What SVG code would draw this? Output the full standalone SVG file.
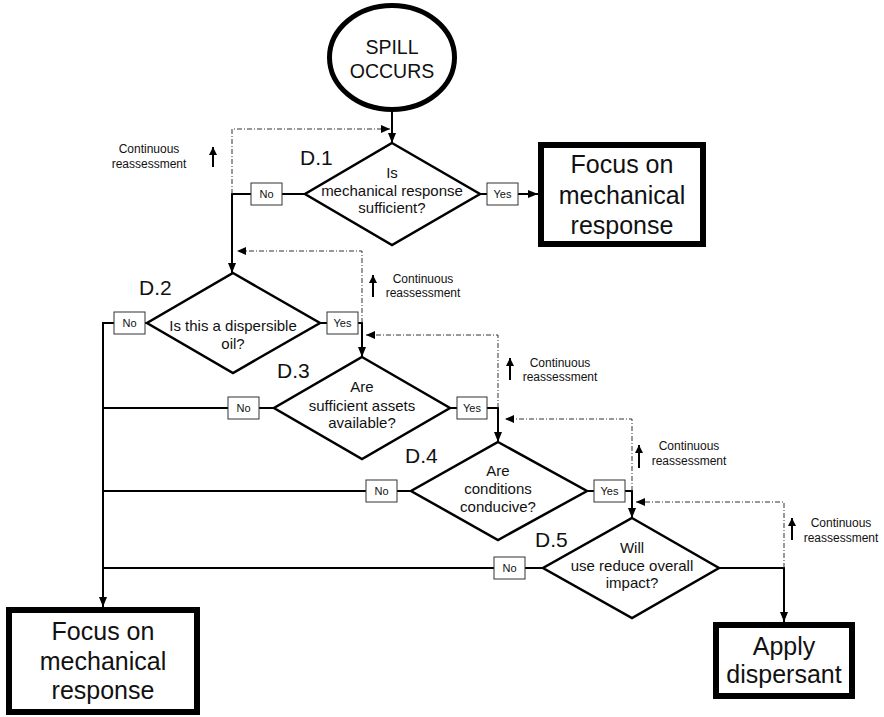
<svg xmlns="http://www.w3.org/2000/svg" width="884" height="717" viewBox="0 0 884 717">
  <defs>
    <marker id="arrow" viewBox="0 0 10 8" refX="10" refY="4" markerWidth="10" markerHeight="8" markerUnits="userSpaceOnUse" orient="auto">
      <path d="M0,0 L10,4 L0,8 z" fill="#000"/>
    </marker>
    <marker id="arrowSmall" viewBox="0 0 9 8" refX="9" refY="4" markerWidth="9" markerHeight="8" markerUnits="userSpaceOnUse" orient="auto">
      <path d="M0,0 L9,4 L0,8 z" fill="#000"/>
    </marker>
    <marker id="arrowUp" viewBox="0 0 8 9" refX="8" refY="4" markerWidth="8" markerHeight="9" markerUnits="userSpaceOnUse" orient="auto">
      <path d="M0,0 L8,4 L0,8 z" fill="#000"/>
    </marker>
  </defs>
  <style>
    text { font-family: "Liberation Sans", Arial, sans-serif; fill: #111; }
    .term { fill: #fff; stroke: #000; stroke-width: 6; }
    .decision { fill: #fff; stroke: #000; stroke-width: 2.5; stroke-linejoin: miter; }
    .tag { fill: #fff; stroke: #333; stroke-width: 1; }
    .tagtext { font-size: 11px; text-anchor: middle; }
    .qtext { font-size: 15px; text-anchor: middle; }
    .dlabel { font-size: 21px; }
    .bigtext { font-size: 25px; text-anchor: middle; }
    .note { font-size: 12px; text-anchor: middle; }
    .flow { fill: none; stroke: #000; stroke-width: 2; }
    .loop { fill: none; stroke: #333; stroke-width: 1; stroke-dasharray: 5 2 1 2; }
    .up { fill: none; stroke: #000; stroke-width: 2; }
  </style>

  <!-- connectors -->
  <g id="connectors">
    <path class="flow" d="M392,110 V143" marker-end="url(#arrow)"/>
    <path class="flow" d="M480,194 H487"/>
    <path class="flow" d="M518,194 H538" marker-end="url(#arrow)"/>
    <path class="flow" d="M305,194 H282"/>
    <path class="flow" d="M251,194 H232 V273" marker-end="url(#arrow)"/>

    <path class="flow" d="M147,323 H145"/>
    <path class="flow" d="M114,323 H103 V607" marker-end="url(#arrow)"/>
    <path class="flow" d="M320,323 H327"/>
    <path class="flow" d="M358,323 H362 V357" marker-end="url(#arrow)"/>

    <path class="flow" d="M274,408 H259"/>
    <path class="flow" d="M228,408 H103"/>
    <path class="flow" d="M450,408 H457"/>
    <path class="flow" d="M487,408 H498 V442" marker-end="url(#arrow)"/>

    <path class="flow" d="M411,491 H397"/>
    <path class="flow" d="M366,491 H103"/>
    <path class="flow" d="M587,491 H594"/>
    <path class="flow" d="M625,491 H632 V518" marker-end="url(#arrow)"/>

    <path class="flow" d="M543,568 H525"/>
    <path class="flow" d="M494,568 H103"/>
    <path class="flow" d="M719,568 H784 V622" marker-end="url(#arrow)"/>

    <!-- reassessment loops -->
    <path class="loop" d="M232,194 V129 H390" marker-end="url(#arrowSmall)"/>
    <path class="loop" d="M362,323 V251 H237" marker-end="url(#arrowSmall)"/>
    <path class="loop" d="M498,408 V335 H366" marker-end="url(#arrowSmall)"/>
    <path class="loop" d="M632,491 V419 H505" marker-end="url(#arrowSmall)"/>
    <path class="loop" d="M784,568 V502 H636" marker-end="url(#arrowSmall)"/>
  </g>

  <!-- start -->
  <g id="spill">
    <ellipse cx="392" cy="57.5" rx="62.5" ry="52" fill="#fff" stroke="#000" stroke-width="5"/>
    <text x="392" y="54" font-size="19.5" text-anchor="middle">SPILL</text>
    <text x="392" y="78" font-size="19.5" text-anchor="middle">OCCURS</text>
  </g>

  <!-- D.1 -->
  <g id="d1">
    <polygon class="decision" points="392,143 480,194 392,245 305,194"/>
    <text class="dlabel" x="300" y="165">D.1</text>
    <text class="qtext" x="392" y="178">Is</text>
    <text class="qtext" x="392" y="196">mechanical response</text>
    <text class="qtext" x="392" y="213">sufficient?</text>
  </g>
  <g id="d1-yes">
    <rect class="tag" x="487" y="183" width="31" height="22"/>
    <text class="tagtext" x="502.5" y="198">Yes</text>
  </g>
  <g id="d1-no">
    <rect class="tag" x="251" y="183" width="31" height="22"/>
    <text class="tagtext" x="266.5" y="198">No</text>
  </g>

  <!-- mechanical response (top) -->
  <g id="mech-top">
    <rect class="term" x="541" y="145" width="162" height="99"/>
    <text class="bigtext" x="622" y="173">Focus on</text>
    <text class="bigtext" x="622" y="204">mechanical</text>
    <text class="bigtext" x="622" y="234">response</text>
  </g>

  <!-- D.2 -->
  <g id="d2">
    <polygon class="decision" points="233,273 320,323 233,373 147,323"/>
    <text class="dlabel" x="139" y="295">D.2</text>
    <text class="qtext" x="233" y="331">Is this a dispersible</text>
    <text class="qtext" x="233" y="349">oil?</text>
  </g>
  <g id="d2-no">
    <rect class="tag" x="114" y="312" width="31" height="22"/>
    <text class="tagtext" x="129.5" y="327">No</text>
  </g>
  <g id="d2-yes">
    <rect class="tag" x="327" y="312" width="31" height="22"/>
    <text class="tagtext" x="342.5" y="327">Yes</text>
  </g>

  <!-- D.3 -->
  <g id="d3">
    <polygon class="decision" points="362,357 450,408 362,459 274,408"/>
    <text class="dlabel" x="277" y="378">D.3</text>
    <text class="qtext" x="362" y="392">Are</text>
    <text class="qtext" x="362" y="411">sufficient assets</text>
    <text class="qtext" x="362" y="428">available?</text>
  </g>
  <g id="d3-no">
    <rect class="tag" x="228" y="397" width="31" height="22"/>
    <text class="tagtext" x="243.5" y="412">No</text>
  </g>
  <g id="d3-yes">
    <rect class="tag" x="457" y="397" width="30" height="22"/>
    <text class="tagtext" x="472" y="412">Yes</text>
  </g>

  <!-- D.4 -->
  <g id="d4">
    <polygon class="decision" points="498,442 587,491 498,540 411,491"/>
    <text class="dlabel" x="405" y="463">D.4</text>
    <text class="qtext" x="498" y="476">Are</text>
    <text class="qtext" x="498" y="494">conditions</text>
    <text class="qtext" x="498" y="512">conducive?</text>
  </g>
  <g id="d4-no">
    <rect class="tag" x="366" y="480" width="31" height="22"/>
    <text class="tagtext" x="381.5" y="495">No</text>
  </g>
  <g id="d4-yes">
    <rect class="tag" x="594" y="480" width="31" height="22"/>
    <text class="tagtext" x="609.5" y="495">Yes</text>
  </g>

  <!-- D.5 -->
  <g id="d5">
    <polygon class="decision" points="632,518 719,568 632,618 543,568"/>
    <text class="dlabel" x="535" y="547">D.5</text>
    <text class="qtext" x="632" y="553">Will</text>
    <text class="qtext" x="632" y="571">use reduce overall</text>
    <text class="qtext" x="632" y="588">impact?</text>
  </g>
  <g id="d5-no">
    <rect class="tag" x="494" y="557" width="31" height="22"/>
    <text class="tagtext" x="509.5" y="572">No</text>
  </g>

  <!-- mechanical response (bottom) -->
  <g id="mech-bottom">
    <rect class="term" x="9" y="610" width="188" height="102"/>
    <text class="bigtext" x="103" y="640">Focus on</text>
    <text class="bigtext" x="103" y="670">mechanical</text>
    <text class="bigtext" x="103" y="699">response</text>
  </g>

  <!-- apply dispersant -->
  <g id="apply">
    <rect class="term" x="716" y="625" width="136" height="71"/>
    <text class="bigtext" x="784" y="655">Apply</text>
    <text class="bigtext" x="784" y="683">dispersant</text>
  </g>

  <!-- reassessment notes -->
  <g id="note1">
    <path class="up" d="M213,167 V147" marker-end="url(#arrowUp)"/>
    <text class="note" x="149" y="153">Continuous</text>
    <text class="note" x="149" y="168">reassessment</text>
  </g>
  <g id="note2">
    <path class="up" d="M373,297 V275" marker-end="url(#arrowUp)"/>
    <text class="note" x="423" y="283">Continuous</text>
    <text class="note" x="423" y="297">reassessment</text>
  </g>
  <g id="note3">
    <path class="up" d="M510,380 V358" marker-end="url(#arrowUp)"/>
    <text class="note" x="560" y="367">Continuous</text>
    <text class="note" x="560" y="381">reassessment</text>
  </g>
  <g id="note4">
    <path class="up" d="M639,468 V445" marker-end="url(#arrowUp)"/>
    <text class="note" x="689" y="450">Continuous</text>
    <text class="note" x="689" y="465">reassessment</text>
  </g>
  <g id="note5">
    <path class="up" d="M792,540 V518" marker-end="url(#arrowUp)"/>
    <text class="note" x="841" y="527">Continuous</text>
    <text class="note" x="841" y="542">reassessment</text>
  </g>
</svg>
